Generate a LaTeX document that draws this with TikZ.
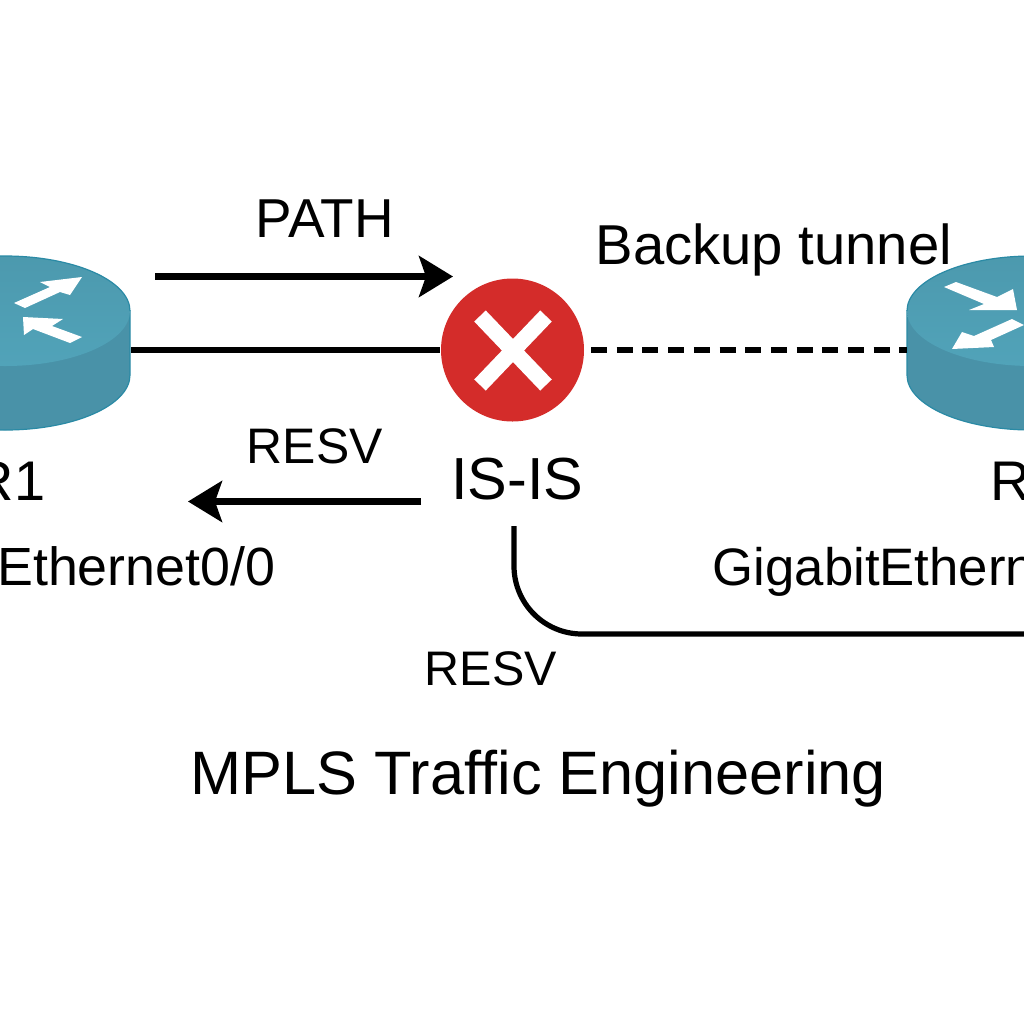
\documentclass[tikz,border=0pt]{standalone}
\usepackage{fontspec}
\setmainfont{Liberation Sans}
\usetikzlibrary{arrows.meta}
\definecolor{routertop}{RGB}{81,163,185}
\definecolor{routerside}{RGB}{73,146,168}
\definecolor{routeredge}{RGB}{42,138,165}
\definecolor{failred}{RGB}{212,44,42}

\begin{document}
\begin{tikzpicture}[
    label/.style={inner sep=0pt, anchor=base west, text=black},
    link/.style={line width=0.062cm, black},
    backup/.style={link, dash pattern=on 0.16cm off 0.097cm},
    arrow/.style={line width=0.062cm, black, -{Stealth[length=0.34cm, width=0.41cm, inset=0.07cm]}},
    signal/.style={line width=0.052cm, black, rounded corners=0.68cm},
    routerbody/.style={fill=routerside, draw=routeredge, line width=0.012cm},
    routercap/.style={top color=routertop!94!black, bottom color=routertop, draw=none},
    routerrim/.style={draw=routeredge, line width=0.012cm},
    routerarrow/.style={fill=white, draw=none},
    failbox/.style={circle, fill=failred, draw=none, minimum size=1.43cm, inner sep=0pt},
    failcross/.style={white, line width=0.16cm}
]
\useasboundingbox (0,-10.24) rectangle (10.24,0);
\clip (0,-10.24) rectangle (10.24,0);

% routers
\foreach \cx in {0.05,10.32} {
    \draw[routerbody] (\cx-1.25,-3.11) -- (\cx-1.25,-3.75) arc[start angle=180, end angle=360, x radius=1.25, y radius=0.55]
        -- (\cx+1.25,-3.11) -- cycle;
    \path[routercap] (\cx,-3.11) ellipse[x radius=1.25, y radius=0.55];
    \draw[routerrim] (\cx-1.25,-3.11) arc[start angle=180, end angle=0, x radius=1.25, y radius=0.55];
}
\fill[routerarrow] (0.14,-3.03) -- (0.50,-2.87) -- (0.40,-2.82) -- (0.82,-2.77) -- (0.70,-2.95) -- (0.60,-2.92) -- (0.25,-3.08) -- cycle;
\fill[routerarrow] (0.23,-3.17) -- (0.63,-3.19) -- (0.52,-3.26) -- (0.82,-3.37) -- (0.70,-3.43) -- (0.33,-3.29) -- (0.24,-3.35) -- cycle;
\fill[routerarrow] (9.44,-2.87) -- (9.56,-2.82) -- (9.97,-2.97) -- (10.13,-2.89) -- (10.17,-3.10) -- (9.69,-3.10) -- (9.84,-3.04) -- cycle;
\fill[routerarrow] (10.12,-3.19) -- (10.24,-3.25) -- (9.91,-3.40) -- (9.94,-3.47) -- (9.52,-3.49) -- (9.62,-3.32) -- (9.74,-3.36) -- cycle;

\coordinate (r1port) at (1.31,-3.50);
\coordinate (r2port) at (9.07,-3.50);
\coordinate (pathstart) at (1.55,-2.765);
\coordinate (pathend) at (4.53,-2.765);
\coordinate (resvstart) at (4.21,-5.015);
\coordinate (resvend) at (1.88,-5.015);
\coordinate (backupstart) at (5.91,-3.50);
\coordinate (signalstart) at (5.14,-5.26);
\coordinate (signalcorner) at (5.14,-6.34);
\coordinate (signalend) at (10.30,-6.34);

\node[failbox] (fail) at (5.125,-3.50) {};
\draw[failcross] (4.80,-3.16) -- (5.46,-3.85);
\draw[failcross] (5.46,-3.16) -- (4.80,-3.85);

\draw[link] (r1port) -- (fail.west);
\draw[backup] (backupstart) -- (r2port);
\draw[arrow] (pathstart) -- (pathend);
\draw[arrow] (resvstart) -- (resvend);
\draw[signal] (signalstart) -- (signalcorner) -- (signalend);

\node[label, font=\fontsize{15.6}{18}\selectfont] (pathlabel) at (2.55,-2.37) {PATH};
\node[label, font=\fontsize{16}{18}\selectfont] (backuplabel) at (5.95,-2.64) {Backup tunnel};
\node[label, font=\fontsize{14.2}{18}\selectfont] (resvtop) at (2.46,-4.63) {RESV};
\node[label, font=\fontsize{16.9}{20}\selectfont] (isislabel) at (4.505,-4.99) {IS-IS};
\node[label, anchor=base east, font=\fontsize{15.9}{18}\selectfont] (r1label) at (0.46,-5.00) {R1};
\node[label, font=\fontsize{15.9}{18}\selectfont] (r2label) at (9.90,-5.00) {R2};
\node[label, anchor=base east, font=\fontsize{15.3}{18}\selectfont] (r1portlabel) at (2.76,-5.85) {Ethernet0/0};
\node[label, font=\fontsize{15}{18}\selectfont] (r2portlabel) at (7.12,-5.85) {GigabitEthernet0/0};
\node[label, font=\fontsize{13.8}{18}\selectfont] (resvlow) at (4.24,-6.85) {RESV};
\node[label, font=\fontsize{17.45}{20}\selectfont] (title) at (1.90,-7.94) {MPLS Traffic Engineering};

\end{tikzpicture}
\end{document}
